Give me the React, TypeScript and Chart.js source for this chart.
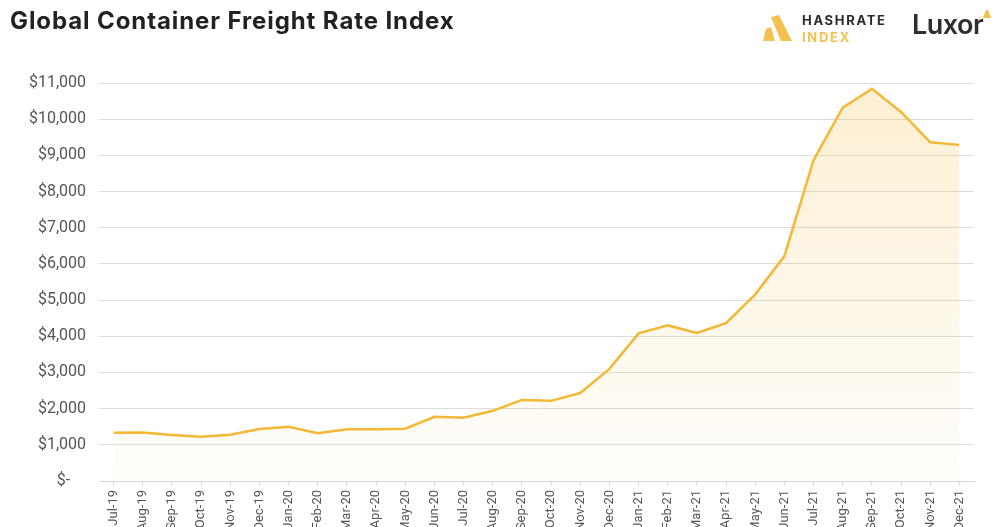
import React, { useEffect, useRef } from "react";
import { Chart, registerables } from "chart.js";

Chart.register(...registerables);

const months: string[] = [
  "Jul-19", "Aug-19", "Sep-19", "Oct-19", "Nov-19", "Dec-19",
  "Jan-20", "Feb-20", "Mar-20", "Apr-20", "May-20", "Jun-20",
  "Jul-20", "Aug-20", "Sep-20", "Oct-20", "Nov-20", "Dec-20",
  "Jan-21", "Feb-21", "Mar-21", "Apr-21", "May-21", "Jun-21",
  "Jul-21", "Aug-21", "Sep-21", "Oct-21", "Nov-21", "Dec-21",
];

const freightRate: number[] = [
  1335, 1340, 1270, 1225, 1280, 1435,
  1500, 1320, 1430, 1430, 1445, 1775,
  1750, 1940, 2240, 2215, 2430, 3100,
  4080, 4300, 4090, 4365, 5160, 6215,
  8870, 10320, 10840, 10200, 9360, 9290,
];

const yMin = 0;
const yMax = 11000;
const yStep = 1000;

const LINE = "#F2B836";

function fmt(v: number): string {
  if (v === 0) return "$-    ";
  return "$" + v.toLocaleString("en-US");
}

export default function App() {
  const ref = useRef<HTMLCanvasElement | null>(null);

  useEffect(() => {
    if (!ref.current) return;
    const chart = new Chart(ref.current, {
      type: "line",
      data: {
        labels: months,
        datasets: [
          {
            data: freightRate,
            borderColor: LINE,
            borderWidth: 2.5,
            pointRadius: 0,
            tension: 0,
            fill: "origin",
            backgroundColor: (ctx: any) => {
              const { chart } = ctx;
              const area = chart.chartArea;
              if (!area) return "rgba(242,184,54,0.1)";
              const g = chart.ctx.createLinearGradient(0, area.top, 0, area.bottom);
              g.addColorStop(0, "rgba(242,184,54,0.22)");
              g.addColorStop(1, "rgba(242,184,54,0.02)");
              return g;
            },
          },
        ],
      },
      options: {
        responsive: false,
        animation: false,
        layout: { padding: { top: 83, right: 22, left: 0, bottom: 0 } },
        plugins: { legend: { display: false }, tooltip: { enabled: false } },
        scales: {
          x: {
            type: "category",
            offset: true,
            afterFit: (s: any) => { s.height = 46; },
            grid: {
              display: true,
              drawOnChartArea: false,
              drawTicks: true,
              tickLength: 4,
              color: "#d6d6d6",
            },
            border: { display: true, color: "#d6d6d6" },
            ticks: {
              autoSkip: false,
              minRotation: 90,
              maxRotation: 90,
              padding: 5,
              color: "#555",
              font: { family: "Roboto", size: 13 },
            },
          },
          y: {
            min: yMin,
            max: yMax,
            afterFit: (s: any) => { s.width = 99; },
            grid: { color: "#dcdcdc", drawTicks: false, lineWidth: 1 },
            border: { display: false },
            ticks: {
              stepSize: yStep,
              padding: 13,
              color: "#555",
              font: { family: "Roboto", size: 16 },
              callback: (v: any) => fmt(Number(v)),
            },
          },
        },
      },
    });
    return () => chart.destroy();
  }, []);

  return (
    <div style={{ position: "fixed", left: 0, top: 0, width: 996, height: 527, background: "#fff", overflow: "hidden" }}>
      <canvas ref={ref} width={996} height={527} style={{ position: "absolute", left: 0, top: 0 }} />
      <div
        style={{
          position: "absolute",
          left: 10,
          top: 6,
          fontFamily: "Inter, sans-serif",
          fontWeight: 700,
          fontSize: 24,
          color: "#222",
          letterSpacing: 0.9,
          whiteSpace: "nowrap",
        }}
      >
        Global Container Freight Rate Index
      </div>
      <svg style={{ position: "absolute", left: 762, top: 15 }} width={32} height={28} viewBox="0 0 32 28">
        <polygon points="9,2 17,0 30,26 19,26" fill="#F2C14E" />
        <polygon points="4,14 9,12 13,26 1,26" fill="#F2C14E" />
      </svg>
      <div
        style={{
          position: "absolute",
          left: 802,
          top: 12,
          fontFamily: "Inter, sans-serif",
          fontWeight: 700,
          fontSize: 13,
          lineHeight: "17px",
          letterSpacing: 1.7,
          color: "#2a2a2a",
        }}
      >
        HASHRATE
        <br />
        <span style={{ color: "#F2C14E" }}>INDEX</span>
      </div>
      <div
        style={{
          position: "absolute",
          left: 912,
          top: 8,
          fontFamily: "Inter, sans-serif",
          fontWeight: 600,
          fontSize: 27,
          color: "#2e2e2e",
          letterSpacing: -0.5,
        }}
      >
        Luxor
      </div>
      <svg style={{ position: "absolute", left: 982, top: 9 }} width={10} height={10} viewBox="0 0 10 10">
        <polygon points="4,1 6,1 9,9 1,9" fill="#F2C14E" />
      </svg>
    </div>
  );
}
